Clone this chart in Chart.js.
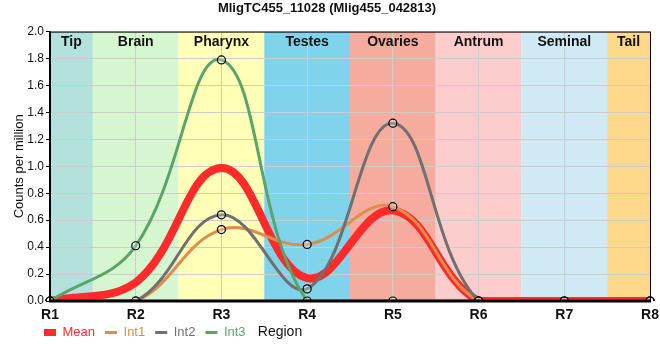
<!DOCTYPE html>
<html>
<head>
<meta charset="utf-8">
<script src="https://cdn.jsdelivr.net/npm/chart.js@4.4.1/dist/chart.umd.min.js"></script>
<style>
html,body{margin:0;padding:0;background:#fff;}
#wrap{width:660px;height:360px;}
</style>
</head>
<body>
<div id="wrap"><canvas id="c" width="660" height="360"></canvas></div>
<script>
const FONT = '"Liberation Sans", Arial, sans-serif';
const regions = ['R1','R2','R3','R4','R5','R6','R7','R8'];
const tissues = ['Tip','Brain','Pharynx','Testes','Ovaries','Antrum','Seminal','Tail'];
const tissueColors = ['#b3e2dd','#d6f6d0','#ffffb8','#7fd4eb','#f5ab9d','#fdcdcd','#cfeaf5','#fed98c'];
const meanValues = [0, 0.137, 0.987, 0.17, 0.673, 0, 0, 0];
const int1Values = [0, 0, 0.53, 0.42, 0.70, 0, 0, 0];
const int2Values = [0, 0, 0.64, 0.09, 1.32, 0, 0, 0];
const int3Values = [0, 0.41, 1.79, 0, 0, 0, 0, 0];
const yTicks = [0,0.2,0.4,0.6,0.8,1.0,1.2,1.4,1.6,1.8,2.0];

const bandPlugin = {
  id: 'bands',
  beforeLayout(chart) {
    const L = chart.legend;
    if (L && !L._patched) {
      const f = L.fit;
      L.fit = function() { f.call(this); this._realH = this.height; this.height = 0; };
      L._patched = true;
    }
  },
  afterLayout(chart) {
    const L = chart.legend;
    if (!L) return;
    L.height = L._realH || 30;
    L.top = 316;
    L.bottom = L.top + L.height;
    L.left = 34;
  },
  beforeDraw(chart) {
    const {ctx, chartArea: a, scales: {x}} = chart;
    ctx.save();
    tissues.forEach((t, i) => {
      const l = Math.max(a.left, x.getPixelForValue(i - 0.5));
      const r = Math.min(a.right, x.getPixelForValue(i + 0.5));
      ctx.fillStyle = tissueColors[i];
      ctx.fillRect(l, a.top, r - l, a.bottom - a.top);
    });
    ctx.restore();
  },
  afterDatasetsDraw(chart) {
    const {ctx, chartArea: a, scales: {x}} = chart;
    ctx.save();
    ctx.fillStyle = '#111';
    ctx.font = 'bold 14px ' + FONT;
    ctx.textAlign = 'center';
    ctx.textBaseline = 'middle';
    tissues.forEach((t, i) => {
      const l = Math.max(a.left, x.getPixelForValue(i - 0.5));
      const r = Math.min(a.right, x.getPixelForValue(i + 0.5));
      ctx.fillText(t, (l + r) / 2, a.top + 11);
    });
    ctx.strokeStyle = '#000';
    ctx.lineWidth = 1;
    ctx.beginPath();
    ctx.moveTo(a.left, a.top + 0.5); ctx.lineTo(a.right, a.top + 0.5);
    ctx.moveTo(a.right + 0.5, a.top); ctx.lineTo(a.right + 0.5, a.bottom);
    ctx.stroke();
    ctx.lineWidth = 2;
    ctx.beginPath();
    ctx.moveTo(a.left, a.top); ctx.lineTo(a.left, a.bottom);
    ctx.stroke();
    ctx.lineWidth = 3;
    ctx.beginPath();
    ctx.moveTo(a.left - 1, a.bottom); ctx.lineTo(a.right + 1, a.bottom);
    ctx.stroke();
    ctx.restore();
  },
  afterDraw(chart) {
    const {ctx} = chart;
    ctx.save();
    ctx.fillStyle = '#111';
    ctx.font = '14px ' + FONT;
    ctx.textAlign = 'center';
    ctx.textBaseline = 'middle';
    ctx.fillText('Region', 280, 332);
    ctx.restore();
  }
};

const seriesColors = ['#ff2a2a','#e08c4a','#707070','#5aa46a'];
const mk = (label, data, color, width, order, pts) => ({
  label, data, borderColor: color, backgroundColor: color, borderWidth: width,
  tension: 0.4, fill: false, order,
  pointRadius: pts ? 4 : 0, pointHoverRadius: pts ? 4 : 0,
  pointBorderColor: '#000', pointBorderWidth: 1.2,
  pointBackgroundColor: 'rgba(255,255,255,0.25)'
});

new Chart(document.getElementById('c'), {
  type: 'line',
  data: {
    labels: regions,
    datasets: [
      mk('Mean', meanValues, seriesColors[0], 8, 10, false),
      mk('Int1', int1Values, seriesColors[1], 3, 3, true),
      mk('Int2', int2Values, seriesColors[2], 3, 2, true),
      mk('Int3', int3Values, seriesColors[3], 3, 1, true)
    ]
  },
  options: {
    responsive: false,
    animation: false,
    layout: {padding: {left: 4, right: 10, top: 0, bottom: 39}},
    plugins: {
      title: {display: true, text: 'MligTC455_11028 (Mlig455_042813)', color: '#111',
        font: {family: FONT, size: 13, weight: 'bold'}, padding: {top: 1, bottom: 15}},
      tooltip: {enabled: false},
      legend: {
        position: 'bottom', align: 'start',
        labels: {
          usePointStyle: true, boxHeight: 7, pointStyleWidth: 12, padding: 10,
          font: {family: FONT, size: 13},
          generateLabels(chart) {
            return chart.data.datasets.map((ds, i) => ({
              text: ds.label, fillStyle: ds.borderColor, strokeStyle: ds.borderColor,
              lineWidth: i === 0 ? 0 : 3, pointStyle: i === 0 ? 'rect' : 'line',
              fontColor: ds.borderColor, hidden: false, datasetIndex: i
            }));
          }
        }
      }
    },
    scales: {
      x: {
        afterFit(scale) { scale.height = 20; scale.paddingRight = 0; scale.paddingLeft = 0; },
        grid: {color: '#cccccc', drawTicks: false, lineWidth: 1},
        border: {display: false},
        ticks: {color: '#111', padding: 6, font: {family: FONT, size: 14, weight: 'bold'}}
      },
      y: {
        min: 0, max: 2,
        afterBuildTicks(scale) { scale.ticks = yTicks.map(v => ({value: v})); },
        afterFit(scale) { scale.width = 46; },
        grid: {color: '#cccccc', tickColor: '#000', tickLength: 4, lineWidth: 1},
        border: {display: false},
        title: {display: true, text: 'Counts per million', color: '#111',
          font: {family: FONT, size: 13}, padding: {top: 8, bottom: 0}},
        ticks: {color: '#111', padding: 2, font: {family: FONT, size: 12},
          callback: v => Number(v).toFixed(1)}
      }
    }
  },
  plugins: [bandPlugin]
});
</script>
</body>
</html>
